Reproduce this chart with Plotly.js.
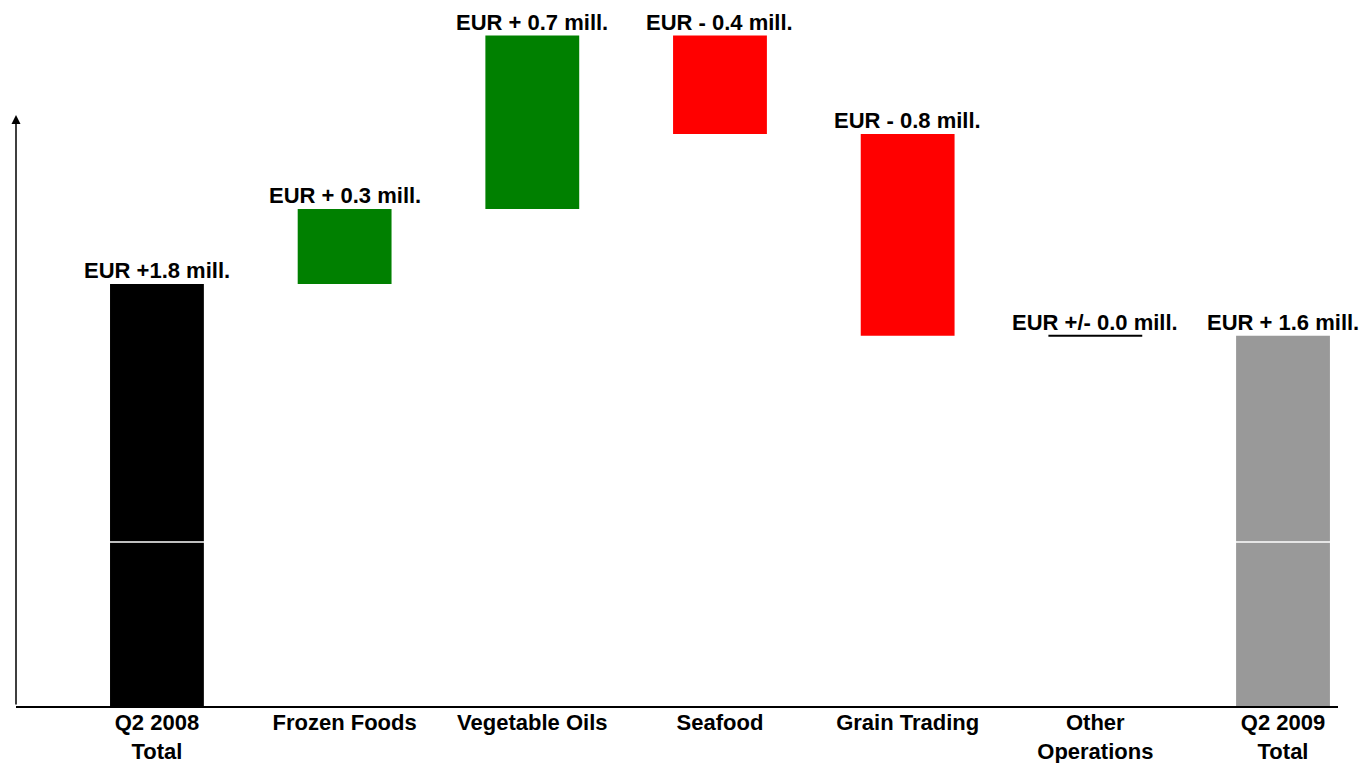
<!DOCTYPE html>
<html>
<head>
<meta charset="utf-8">
<script src="https://cdn.plot.ly/plotly-3.0.1.min.js"></script>
<style>html,body{margin:0;padding:0;background:#fff;}#chart{width:1364px;height:763px;}</style>
</head>
<body>
<div id="chart"></div>
<script>
// ---- data ----
const categories = ['Q2 2008<br>Total', 'Frozen Foods', 'Vegetable Oils', 'Seafood', 'Grain Trading', 'Other<br>Operations', 'Q2 2009<br>Total'];
const values = [1.8, 0.32, 0.74, -0.42, -0.86, 0.0, 1.58];
const measures = ['total', 'relative', 'relative', 'relative', 'relative', 'relative', 'total'];
const valueLabels = ['EUR +1.8 mill.', 'EUR + 0.3 mill.', 'EUR + 0.7 mill.', 'EUR - 0.4 mill.', 'EUR - 0.8 mill.', 'EUR +/- 0.0 mill.', 'EUR + 1.6 mill.'];
const barColors = ['#000000', '#008000', '#008000', '#ff0000', '#ff0000', '#000000', '#999999'];

// ---- build waterfall geometry from values ----
const bases = [], heights = [], tops = [];
let running = 0;
values.forEach((v, i) => {
  if (measures[i] === 'total') {
    bases.push(0); heights.push(v); running = v;
  } else {
    bases.push(v >= 0 ? running : running + v);
    heights.push(Math.abs(v));
    running += v;
  }
  tops.push(bases[i] + heights[i]);
});

const font = {family: 'Liberation Sans, Arial, sans-serif', size: 22, color: '#000', weight: 'bold'};

const trace = {
  type: 'bar',
  x: categories,
  y: heights,
  base: bases,
  width: 0.5,
  marker: {color: barColors, line: {width: 0}},
  hoverinfo: 'skip',
  cliponaxis: false
};

const annotations = categories.map((c, i) => ({
  x: c, y: tops[i], xref: 'x', yref: 'y',
  text: valueLabels[i], showarrow: false,
  yanchor: 'bottom', xanchor: 'center', yshift: -1,
  font: font
}));
// y-axis arrow
annotations.push({
  xref: 'paper', yref: 'paper', x: 0, y: (706 - 115) / 706,
  axref: 'pixel', ayref: 'pixel', ax: 0, ay: 591,
  text: '', showarrow: true, arrowhead: 2, arrowsize: 1.2, arrowwidth: 1.5,
  arrowcolor: '#000', standoff: 0, startstandoff: 0
});

const shapes = [];
// zero-height bars drawn as a line
values.forEach((v, i) => {
  if (heights[i] === 0) {
    shapes.push({type: 'line', xref: 'x', yref: 'y', x0: i - 0.25, x1: i + 0.25, y0: tops[i], y1: tops[i],
      line: {color: '#000', width: 2}, layer: 'above'});
  }
});
// white gridline crossing the bars
shapes.push({type: 'line', xref: 'paper', yref: 'y', x0: 0, x1: 1, y0: 0.7, y1: 0.7,
  line: {color: '#ffffff', width: 1.5}, layer: 'above'});

const layout = {
  width: 1364, height: 763,
  margin: {l: 16, r: 26, t: 0, b: 57},
  paper_bgcolor: '#fff', plot_bgcolor: '#fff',
  showlegend: false,
  bargap: 0.5,
  xaxis: {
    type: 'category',
    range: [-0.751, 6.293],
    showline: true, linecolor: '#000', linewidth: 1.5,
    showgrid: false, zeroline: false, ticks: '',
    ticklabelstandoff: -4,
    tickfont: font,
    fixedrange: true
  },
  yaxis: {
    range: [0, 706 / 234.4],
    showline: false, showgrid: false, zeroline: false,
    showticklabels: false, ticks: '',
    fixedrange: true
  },
  annotations: annotations,
  shapes: shapes
};

Plotly.newPlot('chart', [trace], layout, {displayModeBar: false, staticPlot: true});
</script>
</body>
</html>
